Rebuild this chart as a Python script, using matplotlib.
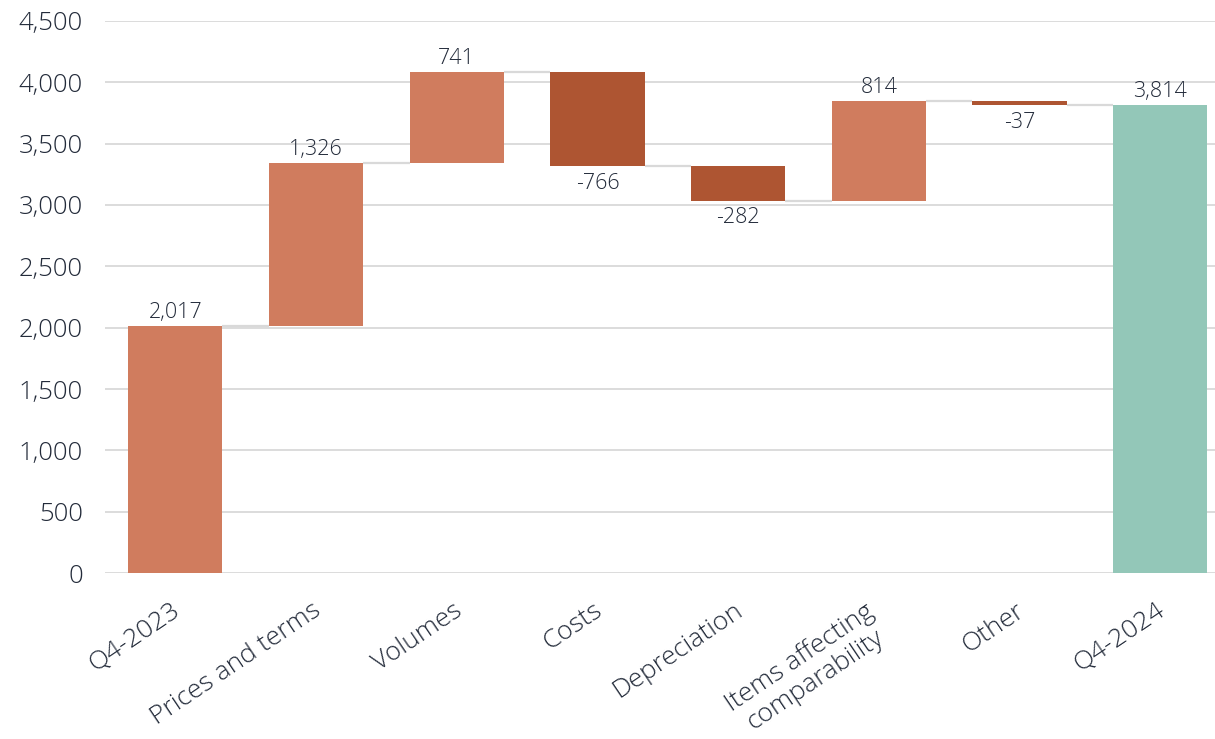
import matplotlib
matplotlib.use("Agg")
import matplotlib.pyplot as plt
from matplotlib.ticker import FuncFormatter

plt.rcParams['font.family'] = ['Open Sans', 'DejaVu Sans']

categories = ["Q4-2023", "Prices and terms", "Volumes", "Costs", "Depreciation",
              "Items affecting\ncomparability", "Other", "Q4-2024"]
start_value = 2017
changes = [1326, 741, -766, -282, 814, -37]
end_value = 3814
y_ticks = [0, 500, 1000, 1500, 2000, 2500, 3000, 3500, 4000, 4500]

col_up = "#D07C5E"
col_down = "#AE5532"
col_total = "#93C7B8"
col_text = "#232B3A"
col_grid = "#D9D9D9"

fig = plt.figure(figsize=(12.15, 7.39), dpi=100)
ax = fig.add_axes([0.0864, 0.2246, 0.9136, 0.747])

width = 0.67
# bottoms / heights for each bar
bottoms, heights, colors = [], [], []
bottoms.append(0); heights.append(start_value); colors.append(col_up)
running = start_value
levels = [running]
for c in changes:
    if c >= 0:
        bottoms.append(running); heights.append(c); colors.append(col_up)
    else:
        bottoms.append(running + c); heights.append(-c); colors.append(col_down)
    running += c
    levels.append(running)
bottoms.append(0); heights.append(end_value); colors.append(col_total)
levels[-1] = end_value

x = list(range(len(categories)))
ax.bar(x, heights, bottom=bottoms, width=width, color=colors, zorder=3)

# connectors between consecutive bars
for i in range(len(categories) - 1):
    ax.plot([i + width / 2, i + 1 - width / 2], [levels[i], levels[i]],
            color=col_grid, lw=1.6, zorder=2, solid_capstyle='butt')

# value labels
values = [start_value] + changes + [end_value]
for i, v in enumerate(values):
    txt = f"{v:,}"
    if v >= 0:
        ax.text(i, bottoms[i] + heights[i] + 25, txt, ha='center', va='bottom',
                fontsize=15.5, color=col_text, fontweight='light')
    else:
        ax.text(i, bottoms[i] - 55, txt, ha='center', va='top',
                fontsize=15.5, color=col_text, fontweight='light')

ax.set_ylim(0, 4500)
ax.set_xlim(-0.5, 7.39)
ax.set_yticks(y_ticks)
ax.yaxis.set_major_formatter(FuncFormatter(lambda v, p: f"{int(v):,}"))
ax.grid(axis='y', color=col_grid, lw=1.3, zorder=0)
for s in ax.spines.values():
    s.set_visible(False)
ax.tick_params(axis='y', length=0, pad=16, labelsize=18.5, labelcolor=col_text)
for t in ax.get_yticklabels():
    t.set_fontweight('light')
ax.tick_params(axis='x', length=0)
ax.set_xticks(x)
ax.set_xticklabels([])
for i, lab in enumerate(categories):
    two_lines = "\n" in lab
    ax.text(i - (0.1 if two_lines else 0.03), -205, lab, rotation=34,
            rotation_mode='anchor', ha='right', va='top',
            multialignment='center', linespacing=1.1,
            fontsize=19, color=col_text, fontweight='light')

fig.savefig("out.png", dpi=100)
